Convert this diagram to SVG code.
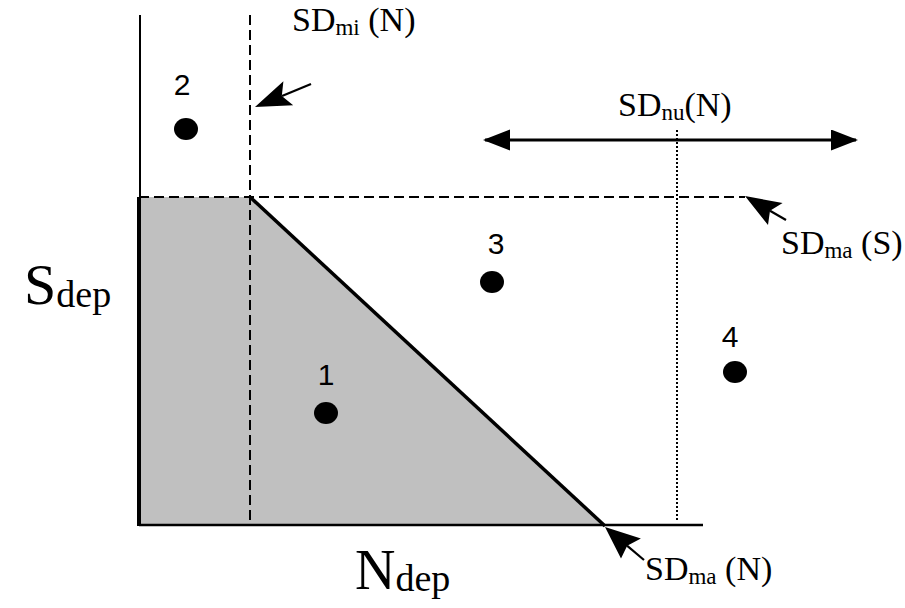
<svg xmlns="http://www.w3.org/2000/svg" width="905" height="608" viewBox="0 0 905 608">
<style>
.ser{font-family:"Liberation Serif","Times New Roman",serif;fill:#000}
.num{font-family:"Liberation Sans",Arial,sans-serif;font-size:30px;fill:#000;text-anchor:middle}
.dash{stroke:#000;stroke-width:2;stroke-dasharray:10 5;fill:none}
.dot{stroke:#000;stroke-width:2;stroke-dasharray:2 2;fill:none}
.ax{stroke:#000;fill:none}
.arr{stroke:#000;stroke-width:2.2;fill:none}
.head{fill:#000;stroke:none}
</style>
<defs>
<marker id="tri" markerUnits="userSpaceOnUse" markerWidth="28" markerHeight="22" refX="25" refY="10.5" orient="auto-start-reverse" viewBox="0 0 28 22">
<path d="M0,0 L27,10.5 L0,21 z" fill="#000"/>
</marker>
</defs>
<rect width="905" height="608" fill="#fff"/>
<g id="region">
<polygon points="139,197 250,197 605,526 139,526" fill="#c0c0c0"/>
</g>
<g id="connectors">
<line class="ax" x1="140" y1="15" x2="140" y2="197" stroke-width="2"/>
<line class="ax" x1="139" y1="197" x2="139" y2="526" stroke-width="4"/>
<line class="ax" x1="139" y1="525" x2="703" y2="525" stroke-width="2.5"/>
<line class="ax" x1="250" y1="197" x2="605" y2="526" stroke-width="3.5"/>
<line class="dash" x1="250" y1="15" x2="250" y2="526"/>
<line class="dash" x1="139" y1="197" x2="745" y2="197"/>
<line class="dot" x1="677" y1="130" x2="677" y2="522"/>
<line x1="485" y1="140" x2="856" y2="140" stroke="#000" stroke-width="3" marker-start="url(#tri)" marker-end="url(#tri)"/>
<g id="arrow-sdmi">
<line class="arr" x1="311" y1="84" x2="282" y2="96"/>
<polygon class="head" points="255,107 283.4,81.3 281.8,96 293.2,105.3"/>
</g>
<g id="arrow-sdmaS">
<line class="arr" x1="786" y1="220" x2="770" y2="210.7"/>
<polygon class="head" points="745,196 782.6,203.1 770,210.7 768,225"/>
</g>
<g id="arrow-sdmaN">
<line class="arr" x1="644" y1="560" x2="627" y2="545.7"/>
<polygon class="head" points="605,527 640.9,538.5 627.2,545.7 621,558.5"/>
</g>
</g>
<g id="p1"><text class="num" x="326" y="385">1</text><ellipse cx="326" cy="413" rx="12" ry="11"/></g>
<g id="p2"><text class="num" x="182" y="95">2</text><ellipse cx="186" cy="129" rx="12" ry="11"/></g>
<g id="p3"><text class="num" x="496" y="254">3</text><ellipse cx="492" cy="282" rx="12" ry="11"/></g>
<g id="p4"><text class="num" x="730" y="347">4</text><ellipse cx="735" cy="372" rx="12" ry="11"/></g>
<g id="label-sdmi"><text class="ser" x="292" y="31" font-size="34">SD<tspan font-size="23" dy="4">mi</tspan><tspan dy="-4"> (N)</tspan></text></g>
<g id="label-sdnu"><text class="ser" x="618" y="116" font-size="34">SD<tspan font-size="23" dy="4">nu</tspan><tspan dy="-4">(N)</tspan></text></g>
<g id="label-sdmaS"><text class="ser" x="781" y="254" font-size="34">SD<tspan font-size="23" dy="4">ma</tspan><tspan dy="-4"> (S)</tspan></text></g>
<g id="label-sdmaN"><text class="ser" x="645" y="580" font-size="34">SD<tspan font-size="23" dy="4">ma</tspan><tspan dy="-4"> (N)</tspan></text></g>
<g id="label-sdep"><text class="ser" x="24" y="304" font-size="58">S<tspan font-size="38" dy="3">dep</tspan></text></g>
<g id="label-ndep"><text class="ser" x="355" y="589" font-size="56">N<tspan font-size="38" dy="2">dep</tspan></text></g>
</svg>
